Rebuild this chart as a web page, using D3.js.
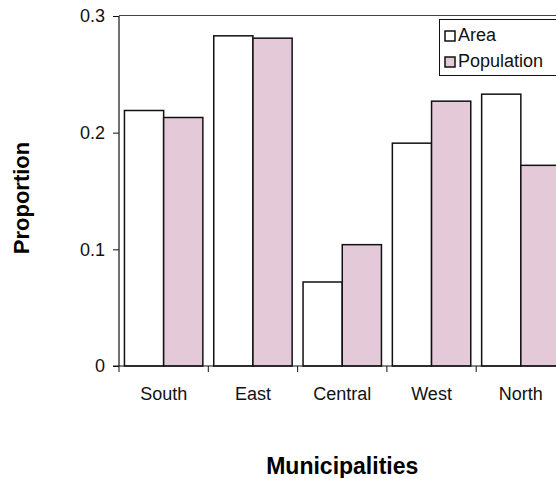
<!DOCTYPE html>
<html>
<head>
<meta charset="utf-8">
<script src="https://cdn.jsdelivr.net/npm/d3@7"></script>
<style>
  html, body { margin: 0; padding: 0; background: #fff; }
  svg { display: block; font-family: "Liberation Sans", Arial, sans-serif; }
</style>
</head>
<body>
<svg id="chart" width="556" height="478"></svg>
<script>
// Municipalities: share of area vs share of population
const categories = ['South', 'East', 'Central', 'West', 'North'];
const seriesNames = ['Area', 'Population'];
const areaValues = [0.219, 0.283, 0.072, 0.191, 0.233];
const populationValues = [0.213, 0.281, 0.104, 0.227, 0.172];
const yTicks = [0, 0.1, 0.2, 0.3];

const W = 556, H = 478;
const margin = { top: 16, left: 119, bottom: 112 };
const plotBottom = H - margin.bottom;       // y of zero line
const plotRight = margin.left + 5 * 89.3;   // plot runs past the right edge

const fills = { Area: '#ffffff', Population: '#e4cad8' };
const labelSize = 18;

const svg = d3.select('#chart');

const x = d3.scaleBand().domain(categories).range([margin.left, plotRight]).padding(0);
const xSub = d3.scaleBand().domain(seriesNames).range([0, x.bandwidth()])
  .paddingInner(0).paddingOuter(0.139);
const y = d3.scaleLinear().domain([0, 0.3]).range([plotBottom, margin.top]);

const rows = categories.map((c, i) => ({ cat: c, Area: areaValues[i], Population: populationValues[i] }));

// top frame line
svg.append('line')
  .attr('x1', margin.left).attr('x2', plotRight)
  .attr('y1', y(0.3) - 0.5).attr('y2', y(0.3) - 0.5)
  .attr('stroke', '#444').attr('stroke-width', 1.2);

// bars
const groups = svg.append('g').selectAll('g').data(rows).join('g')
  .attr('transform', (d) => `translate(${x(d.cat)},0)`);

groups.selectAll('rect')
  .data((d) => seriesNames.map((k) => ({ key: k, value: d[k] })))
  .join('rect')
  .attr('x', (d) => xSub(d.key))
  .attr('y', (d) => y(d.value))
  .attr('width', xSub.bandwidth())
  .attr('height', (d) => y(0) - y(d.value))
  .attr('fill', (d) => fills[d.key])
  .attr('stroke', '#111')
  .attr('stroke-width', 1.5);

// y axis
const yAxis = d3.axisLeft(y).tickValues(yTicks).tickFormat(d3.format('')).tickSize(6).tickPadding(8);
const gy = svg.append('g').attr('transform', `translate(${margin.left},0)`).call(yAxis);
gy.select('.domain').attr('stroke', '#111').attr('stroke-width', 1.2).attr('d', `M0,${y(0)}V${y(0.3)}`);
gy.selectAll('.tick line').attr('stroke', '#111');
gy.selectAll('.tick text').attr('font-size', labelSize).attr('fill', '#111')
  .attr('font-family', '"Liberation Sans", Arial, sans-serif');

// x axis: ticks sit on the category boundaries
const gx = svg.append('g').attr('transform', `translate(0,${plotBottom})`);
gx.append('line')
  .attr('x1', margin.left - 6).attr('x2', plotRight)
  .attr('stroke', '#111').attr('stroke-width', 1.2);
const bounds = categories.map((c) => x(c));
gx.selectAll('.xt').data(bounds).join('line')
  .attr('class', 'xt')
  .attr('x1', (d) => d).attr('x2', (d) => d)
  .attr('y1', 0).attr('y2', 6)
  .attr('stroke', '#111');
gx.selectAll('.xl').data(categories).join('text')
  .attr('class', 'xl')
  .attr('x', (d) => x(d) + x.bandwidth() / 2)
  .attr('y', 34)
  .attr('text-anchor', 'middle')
  .attr('font-size', labelSize)
  .attr('fill', '#111')
  .text((d) => d);

// axis titles
svg.append('text')
  .attr('x', (margin.left + plotRight) / 2).attr('y', 474)
  .attr('text-anchor', 'middle')
  .attr('font-size', 23).attr('font-weight', 'bold')
  .text('Municipalities');

svg.append('text')
  .attr('transform', 'translate(29,198) rotate(-90)')
  .attr('text-anchor', 'middle')
  .attr('font-size', 22).attr('font-weight', 'bold')
  .text('Proportion');

// legend (box runs off the right edge)
const legend = svg.append('g').attr('transform', 'translate(439,19)');
legend.append('rect')
  .attr('x', 0.5).attr('y', 0.5).attr('width', 140).attr('height', 56)
  .attr('fill', '#fff').attr('stroke', '#111').attr('stroke-width', 1);
const items = legend.selectAll('.item').data(seriesNames).join('g')
  .attr('class', 'item')
  .attr('transform', (d, i) => `translate(6,${12 + i * 26})`);
items.append('rect')
  .attr('width', 10).attr('height', 10)
  .attr('fill', (d) => fills[d])
  .attr('stroke', '#111').attr('stroke-width', 1.5);
items.append('text')
  .attr('x', 13).attr('y', 10)
  .attr('font-size', labelSize)
  .attr('fill', '#111')
  .text((d) => d);
</script>
</body>
</html>
